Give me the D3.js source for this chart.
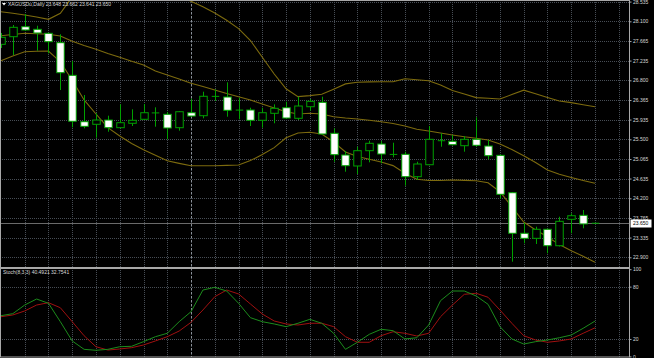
<!DOCTYPE html>
<html>
<head>
<meta charset="utf-8">
<script src="https://cdn.jsdelivr.net/npm/d3@7"></script>
<style>
  html, body { margin: 0; padding: 0; background: #000; }
  svg { display: block; font-family: "Liberation Sans", Arial, sans-serif; }
</style>
</head>
<body>
<svg id="chart" width="654" height="358"></svg>
<script>
// XAGUSDu daily candles (oldest first)
const open  = [27.593, 27.761, 27.981, 27.924, 27.836, 27.629, 26.910, 25.888, 25.831, 25.925, 25.756, 25.853, 25.941, 26.090, 26.051, 25.756, 26.086, 26.020, 26.450, 26.432, 26.148, 26.146, 25.919, 26.073, 26.196, 25.963, 26.218, 26.315, 25.632, 25.154, 24.912, 25.249, 25.396, 25.171, 25.169, 24.676, 24.940, 25.491, 25.456, 25.359, 25.500, 25.352, 25.147, 24.323, 23.429, 23.318, 23.517, 23.155, 23.737, 23.825, 23.648]
const high  = [27.843, 28.019, 28.261, 28.003, 27.849, 27.814, 27.225, 26.476, 26.073, 26.020, 26.271, 26.161, 26.278, 26.205, 26.102, 26.124, 26.395, 26.549, 26.602, 26.756, 26.417, 26.196, 26.196, 26.271, 26.329, 26.439, 26.388, 26.439, 25.742, 25.242, 25.337, 25.469, 25.463, 25.425, 25.227, 25.006, 25.793, 25.632, 25.595, 25.573, 25.985, 25.485, 25.165, 24.339, 23.662, 23.574, 23.535, 23.794, 23.869, 23.942, 23.662]
const low   = [27.512, 27.358, 27.887, 27.452, 27.395, 26.586, 25.764, 25.742, 25.535, 25.667, 25.742, 25.793, 25.925, 25.778, 25.500, 25.690, 25.998, 25.963, 26.344, 25.998, 25.941, 25.793, 25.756, 25.853, 25.947, 25.925, 26.130, 25.595, 25.006, 24.786, 24.735, 24.993, 24.971, 25.103, 24.478, 24.603, 24.930, 25.337, 25.363, 25.227, 25.337, 25.059, 24.184, 22.803, 23.208, 23.193, 22.988, 23.138, 23.429, 23.539, 23.641]
const close = [27.748, 27.968, 27.909, 27.843, 27.651, 26.968, 25.897, 25.786, 25.925, 25.756, 25.866, 25.919, 26.086, 26.082, 25.749, 26.108, 26.013, 26.448, 26.446, 26.139, 26.144, 25.919, 26.086, 26.183, 25.969, 26.234, 26.337, 25.617, 25.161, 24.918, 25.249, 25.412, 25.176, 25.167, 24.676, 24.956, 25.500, 25.469, 25.381, 25.500, 25.368, 25.139, 24.288, 23.429, 23.318, 23.517, 23.155, 23.693, 23.816, 23.635, 23.650]

// bollinger bands as drawn
const bbUpper  = [28.312, 28.277, 28.239, 28.195, 28.144, 28.277, 28.636, 28.768, 28.900, 29.010, 29.043, 29.032, 29.010, 28.878, 28.790, 28.658, 28.541, 28.422, 28.283, 28.122, 27.939, 27.677, 27.309, 26.939, 26.613, 26.441, 26.463, 26.492, 26.604, 26.721, 26.756, 26.765, 26.767, 26.769, 26.835, 26.811, 26.789, 26.697, 26.575, 26.498, 26.419, 26.404, 26.388, 26.487, 26.584, 26.503, 26.421, 26.344, 26.309, 26.262, 26.218]
const bbMiddle = [27.783, 27.809, 27.836, 27.825, 27.814, 27.776, 27.660, 27.567, 27.483, 27.391, 27.307, 27.221, 27.137, 27.005, 26.917, 26.829, 26.734, 26.664, 26.586, 26.509, 26.439, 26.366, 26.278, 26.190, 26.108, 26.058, 26.073, 26.058, 25.998, 25.969, 25.947, 25.919, 25.888, 25.848, 25.793, 25.720, 25.683, 25.639, 25.595, 25.555, 25.522, 25.485, 25.396, 25.275, 25.139, 24.989, 24.824, 24.729, 24.658, 24.592, 24.530]
const bbLower  = [27.232, 27.336, 27.428, 27.439, 27.446, 27.208, 26.800, 26.368, 26.058, 25.758, 25.573, 25.407, 25.269, 25.147, 25.026, 24.969, 24.918, 24.918, 24.918, 24.925, 24.934, 25.031, 25.165, 25.317, 25.533, 25.639, 25.654, 25.617, 25.440, 25.222, 25.123, 25.059, 25.000, 24.920, 24.753, 24.619, 24.592, 24.592, 24.603, 24.594, 24.588, 24.544, 24.345, 24.013, 23.678, 23.501, 23.354, 23.180, 23.045, 22.924, 22.790]

// stochastic (8,3,3)
const stochMain   = [46.7, 49.0, 58.9, 65.8, 60.9, 39.8, 17.7, 8.1, 7.0, 8.1, 11.1, 11.6, 16.9, 22.6, 26.5, 39.8, 51.3, 76.1, 79.2, 75.0, 60.9, 44.4, 39.8, 37.2, 34.1, 38.0, 42.5, 38.0, 26.5, 8.1, 16.2, 25.3, 31.1, 29.5, 20.0, 21.4, 36.0, 63.9, 75.0, 75.0, 69.3, 59.7, 34.1, 20.0, 14.2, 16.9, 18.8, 21.4, 24.5, 32.2, 40.49]
const stochSignal = [45.5, 47.5, 52.1, 58.9, 61.6, 55.8, 39.8, 23.7, 11.1, 7.3, 8.5, 10.0, 13.1, 17.7, 22.6, 29.1, 39.1, 53.2, 68.5, 76.1, 71.6, 60.1, 48.6, 40.6, 37.2, 36.0, 38.0, 38.0, 34.1, 22.6, 16.2, 16.2, 23.7, 28.3, 26.5, 23.4, 26.5, 45.5, 58.9, 71.2, 72.4, 67.8, 53.2, 38.0, 23.7, 18.8, 16.2, 17.7, 20.0, 26.5, 32.75]

const priceTicks = [28.535, 28.100, 27.665, 27.235, 26.800, 26.365, 25.935, 25.500, 25.065, 24.635, 24.200, 23.765, 23.335, 22.900]
const stochTicks = [100, 80, 20, 0]
const separatorBars = [16]   // period separator (month start)
const lastPrice = 23.650
const titleText = 'XAGUSDu,Daily 23.648 23.662 23.641 23.650'
const stochText = 'Stoch(8,3,3) 40.4921 32.7541'

const plotRight = 629.5
const mainBottom = 267
const subTop = 269.2, subBottom = 356.4

const svg = d3.select('#chart')
svg.append('rect').attr('width', 654).attr('height', 358).attr('fill', '#000')

const x = d3.scaleLinear().domain([0, 50]).range([0.94, 595])
const y = d3.scaleLinear().domain([22.686, 28.570]).range([mainBottom, 0])
const ys = d3.scaleLinear().domain([0, 100]).range([subBottom, subTop])

const gridColor = '#474d55'

svg.append('defs').append('clipPath').attr('id', 'mainClip')
  .append('rect').attr('x', 0).attr('y', 0).attr('width', plotRight).attr('height', mainBottom)

// vertical grid, every second bar, both panes
svg.append('g').attr('class', 'vgrid')
  .selectAll('line')
  .data(d3.range(2, 53, 2))
  .enter().append('line')
  .attr('x1', d => Math.round(x(d)) + 0.5)
  .attr('x2', d => Math.round(x(d)) + 0.5)
  .attr('y1', 0)
  .attr('y2', 357)
  .style('stroke', gridColor)
  .style('stroke-dasharray', '1,1')

// period separator
svg.append('g')
  .selectAll('line')
  .data(separatorBars)
  .enter().append('line')
  .attr('x1', d => Math.round(x(d)) + 0.5)
  .attr('x2', d => Math.round(x(d)) + 0.5)
  .attr('y1', 0)
  .attr('y2', 357)
  .style('stroke', '#8a9098')
  .style('stroke-dasharray', '2,2')

// horizontal grid, price pane
svg.append('g')
  .selectAll('line')
  .data(priceTicks)
  .enter().append('line')
  .attr('x1', 0).attr('x2', plotRight)
  .attr('y1', d => Math.round(y(d)) + 0.5)
  .attr('y2', d => Math.round(y(d)) + 0.5)
  .style('stroke', gridColor)
  .style('stroke-dasharray', '1,1')

// horizontal grid, stoch pane (levels 80 / 20)
svg.append('g')
  .selectAll('line')
  .data([80, 20])
  .enter().append('line')
  .attr('x1', 0).attr('x2', plotRight)
  .attr('y1', d => Math.round(ys(d)) + 0.5)
  .attr('y2', d => Math.round(ys(d)) + 0.5)
  .style('stroke', gridColor)
  .style('stroke-dasharray', '1,1')

// current price line
svg.append('line')
  .attr('x1', 0).attr('x2', plotRight)
  .attr('y1', Math.round(y(lastPrice)) + 0.5).attr('y2', Math.round(y(lastPrice)) + 0.5)
  .style('stroke', '#6a6a6a')
  .style('stroke-width', 1)

// bollinger bands
const bandLine = d3.line().x((d, i) => x(i)).y(d => y(d))
svg.append('g')
  .attr('clip-path', 'url(#mainClip)')
  .selectAll('path')
  .data([bbUpper, bbMiddle, bbLower])
  .enter().append('path')
  .attr('d', bandLine)
  .style('fill', 'none')
  .style('stroke', '#7c6a0e')
  .style('stroke-width', 1.1)

// candles
const candleColor = '#00a000'
const bars = d3.range(open.length).map(i => ({ i, o: open[i], h: high[i], l: low[i], c: close[i] }))
const candles = svg.append('g').attr('class', 'candles').attr('clip-path', 'url(#mainClip)')

candles.selectAll('line.wick')
  .data(bars)
  .enter().append('line')
  .attr('class', 'wick')
  .attr('x1', d => Math.round(x(d.i)) + 0.5)
  .attr('x2', d => Math.round(x(d.i)) + 0.5)
  .attr('y1', d => y(d.h))
  .attr('y2', d => y(d.l))
  .style('stroke', candleColor)

const bodyW = 7.5
candles.selectAll('rect.body')
  .data(bars.filter(d => Math.abs(y(d.o) - y(d.c)) >= 1))
  .enter().append('rect')
  .attr('class', 'body')
  .attr('x', d => Math.round(x(d.i)) + 0.5 - bodyW / 2)
  .attr('y', d => y(Math.max(d.o, d.c)))
  .attr('width', bodyW)
  .attr('height', d => Math.abs(y(d.o) - y(d.c)))
  .style('fill', d => d.c < d.o ? '#ffffff' : '#000000')
  .style('stroke', candleColor)
  .style('stroke-width', 1)

// doji bars
candles.selectAll('line.doji')
  .data(bars.filter(d => Math.abs(y(d.o) - y(d.c)) < 1))
  .enter().append('line')
  .attr('class', 'doji')
  .attr('x1', d => Math.round(x(d.i)) + 0.5 - bodyW / 2)
  .attr('x2', d => Math.round(x(d.i)) + 0.5 + bodyW / 2)
  .attr('y1', d => y(d.c))
  .attr('y2', d => y(d.c))
  .style('stroke', candleColor)

// stochastic lines
const stochLine = d3.line().x((d, i) => x(i)).y(d => ys(d))
svg.append('path')
  .attr('d', stochLine(stochSignal))
  .style('fill', 'none')
  .style('stroke', '#a01010')
svg.append('path')
  .attr('d', stochLine(stochMain))
  .style('fill', 'none')
  .style('stroke', '#1c8c1c')

// frames
const frameColor = '#a8a8a8'
svg.append('rect')
  .attr('x', 0.5).attr('y', 0.5)
  .attr('width', plotRight - 0.5).attr('height', mainBottom)
  .style('fill', 'none').style('stroke', frameColor)
svg.append('rect')
  .attr('x', 0.5).attr('y', 268.5)
  .attr('width', plotRight - 0.5).attr('height', 88.5)
  .style('fill', 'none').style('stroke', frameColor)

// price axis
const priceAxis = svg.append('g')
  .attr('transform', `translate(${plotRight},0)`)
  .call(d3.axisRight(y).tickValues(priceTicks).tickSize(2).tickPadding(1.5).tickFormat(d3.format('.3f')))
priceAxis.select('.domain').remove()
priceAxis.selectAll('line').style('stroke', frameColor)
priceAxis.selectAll('text').style('fill', '#d8d8d8').style('font-size', '5px')
  .style('font-family', '"Liberation Sans", Arial, sans-serif')

const stochAxis = svg.append('g')
  .attr('transform', `translate(${plotRight},0)`)
  .call(d3.axisRight(ys).tickValues(stochTicks).tickSize(2).tickPadding(1.5))
stochAxis.select('.domain').remove()
stochAxis.selectAll('line').style('stroke', frameColor)
stochAxis.selectAll('text').style('fill', '#d8d8d8').style('font-size', '5px')
  .style('font-family', '"Liberation Sans", Arial, sans-serif')

// last price marker
const lp = svg.append('g').attr('transform', `translate(${plotRight + 1},${Math.round(y(lastPrice)) + 0.5})`)
lp.append('rect')
  .attr('x', 0).attr('y', -4).attr('width', 21).attr('height', 8)
  .style('fill', '#ffffff')
lp.append('text')
  .attr('x', 2.5).attr('y', 0).attr('dy', '0.35em')
  .style('font-size', '5px').style('fill', '#000')
  .text(d3.format('.3f')(lastPrice))

// titles
svg.append('path')
  .attr('d', 'M2,3 L6,3 L4,5.5 Z')
  .style('fill', '#ffffff')
svg.append('text')
  .attr('x', 8).attr('y', 6)
  .style('font-size', '5px').style('fill', '#d8d8d8')
  .text(titleText)
svg.append('text')
  .attr('x', 3).attr('y', 274)
  .style('font-size', '5px').style('fill', '#d8d8d8')
  .text(stochText)
</script>
</body>
</html>
